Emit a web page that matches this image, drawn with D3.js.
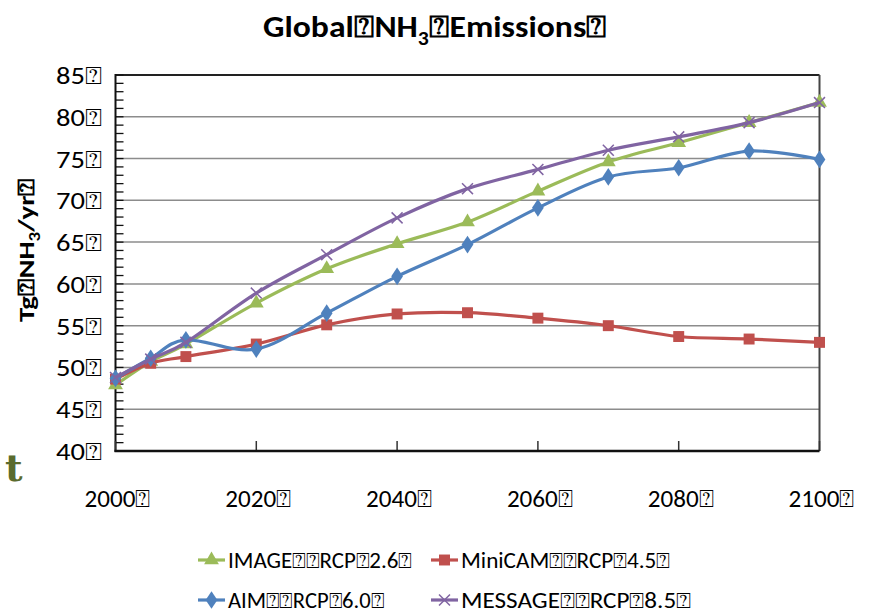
<!DOCTYPE html>
<html><head><meta charset="utf-8">
<script src="https://cdn.jsdelivr.net/npm/d3@7"></script>
<style>
html,body{margin:0;padding:0;background:#fff;}
svg{display:block;}
</style></head>
<body>
<svg id="chart" width="869" height="614"></svg>
<script>
const B = "\u2370";
const years = [2000, 2005, 2010, 2020, 2030, 2040, 2050, 2060, 2070, 2080, 2090, 2100];
const imageVals   = [47.9, 50.7, 52.8, 57.7, 61.8, 64.8, 67.4, 71.1, 74.6, 76.9, 79.3, 81.7];
const minicamVals = [48.6, 50.5, 51.3, 52.8, 55.1, 56.4, 56.55, 55.9, 55.0, 53.7, 53.4, 53.0];
const aimVals     = [48.7, 51.1, 53.3, 52.2, 56.5, 60.9, 64.7, 69.1, 72.8, 73.9, 75.9, 74.9];
const messageVals = [48.8, 51.0, 53.0, 58.9, 63.5, 67.9, 71.4, 73.7, 76.0, 77.6, 79.3, 81.7];
const seriesNames = ["IMAGE" + B + B + "RCP" + B + "2.6" + B, "MiniCAM" + B + B + "RCP" + B + "4.5" + B,
                     "AIM" + B + B + "RCP" + B + "6.0" + B, "MESSAGE" + B + B + "RCP" + B + "8.5" + B];
const seriesColors = ["#9BBB59", "#C0504D", "#4F81BD", "#8064A2"];
const seriesMarkers = ["triangle", "square", "diamond", "x"];
const yTicks = [40, 45, 50, 55, 60, 65, 70, 75, 80, 85];
const xTicks = [2000, 2020, 2040, 2060, 2080, 2100];

const svg = d3.select("#chart");
const FONT = "Carlito, Lato, sans-serif";
const L = 115.5, R = 819.5, T = 75, Bt = 451;
const x = d3.scaleLinear().domain([2000, 2100]).range([L, R]);
const y = d3.scaleLinear().domain([40, 85]).range([Bt, T]);

// gridlines
svg.append("g").selectAll("line").data(yTicks.filter(v => v > 40 && v < 85)).join("line")
  .attr("x1", L).attr("x2", R).attr("y1", d => y(d)).attr("y2", d => y(d))
  .attr("stroke", "#8c8c8c").attr("stroke-width", 1.5);

// plot border top/right
svg.append("line").attr("x1", L).attr("x2", R).attr("y1", T).attr("y2", T).attr("stroke", "#222").attr("stroke-width", 2);
svg.append("line").attr("x1", R).attr("x2", R).attr("y1", T).attr("y2", Bt).attr("stroke", "#444").attr("stroke-width", 2);

// y axis with minor ticks inside
const yMinor = d3.range(40, 86, 1);
svg.append("g").selectAll("line").data(yMinor).join("line")
  .attr("x1", L).attr("x2", L + 8).attr("y1", d => y(d)).attr("y2", d => y(d))
  .attr("stroke", "#111").attr("stroke-width", 1.3);
svg.append("line").attr("x1", L).attr("x2", L).attr("y1", T - 1).attr("y2", Bt + 1).attr("stroke", "#111").attr("stroke-width", 2);
// x axis
svg.append("g").selectAll("line").data(xTicks).join("line")
  .attr("x1", d => x(d)).attr("x2", d => x(d)).attr("y1", Bt).attr("y2", Bt - 10)
  .attr("stroke", "#333").attr("stroke-width", 1.5);
svg.append("line").attr("x1", L - 1).attr("x2", R).attr("y1", Bt).attr("y2", Bt).attr("stroke", "#111").attr("stroke-width", 2.5);

// y tick labels
svg.append("g").selectAll("text").data(yTicks).join("text")
  .attr("x", 102).attr("y", d => y(d)).attr("dy", "0.36em")
  .attr("text-anchor", "end").attr("font-family", FONT).attr("font-size", 25).attr("fill", "#000")
  .attr("textLength", 46).attr("lengthAdjust", "spacingAndGlyphs")
  .text(d => d + B);
// x tick labels
svg.append("g").selectAll("text").data(xTicks).join("text")
  .attr("x", d => x(d) + 2).attr("y", 507)
  .attr("text-anchor", "middle").attr("font-family", FONT).attr("font-size", 25).attr("fill", "#000")
  .attr("textLength", 66).attr("lengthAdjust", "spacingAndGlyphs")
  .text(d => d + B);

// title
const title = svg.append("text").attr("x", 435).attr("y", 37).attr("text-anchor", "middle")
  .attr("font-family", FONT).attr("font-weight", "bold").attr("font-size", 31).attr("fill", "#000")
  .attr("textLength", 344).attr("lengthAdjust", "spacingAndGlyphs");
title.append("tspan").text("Global" + B + "NH");
title.append("tspan").attr("font-size", 20).attr("dy", 8).text("3");
title.append("tspan").attr("dy", -8).text(B + "Emissions" + B);

// y axis title
const yt = svg.append("text").attr("transform", "translate(34,250) rotate(-90)").attr("text-anchor", "middle")
  .attr("font-family", FONT).attr("font-weight", "bold").attr("font-size", 23).attr("fill", "#000")
  .attr("textLength", 144).attr("lengthAdjust", "spacingAndGlyphs");
yt.append("tspan").text("Tg" + B + "NH");
yt.append("tspan").attr("font-size", 15).attr("dy", 6).text("3");
yt.append("tspan").attr("dy", -6).text("/yr" + B);

// stray slide text
svg.append("text").attr("x", 5).attr("y", 481).attr("font-family", "'DejaVu Serif', serif").attr("font-weight", "bold")
  .attr("font-size", 38).attr("fill", "#5A6B2E").text("t");

const allVals = [imageVals, minicamVals, aimVals, messageVals];
const line = d3.line().x((d, i) => x(years[i])).y(d => y(d)).curve(d3.curveCardinal.tension(0));

function drawMarker(g, type, color, cx, cy) {
  if (type === "triangle") {
    g.append("path").attr("d", d3.symbol(d3.symbolTriangle, 95)()).attr("transform", `translate(${cx},${cy})`).attr("fill", color);
  } else if (type === "square") {
    g.append("path").attr("d", d3.symbol(d3.symbolSquare, 120)()).attr("transform", `translate(${cx},${cy})`).attr("fill", color);
  } else if (type === "diamond") {
    g.append("path").attr("d", d3.symbol(d3.symbolDiamond, 90)()).attr("transform", `translate(${cx},${cy}) scale(1.15,1)`).attr("fill", color);
  } else {
    g.append("path").attr("d", d3.symbol(d3.symbolX, 80)()).attr("transform", `translate(${cx},${cy})`).attr("fill", "none").attr("stroke", color).attr("stroke-width", 1.5);
  }
}

allVals.forEach((vals, s) => {
  const g = svg.append("g");
  g.append("path").datum(vals).attr("d", line).attr("fill", "none")
    .attr("stroke", seriesColors[s]).attr("stroke-width", 3.2).attr("stroke-linejoin", "round");
  vals.forEach((v, i) => drawMarker(g, seriesMarkers[s], seriesColors[s], x(years[i]), y(v)));
});

// legend
const legPos = [[198, 560], [431, 560], [198, 600], [431, 600]];
const legLen = [184, 209, 156, 230];
seriesNames.forEach((name, s) => {
  const [lx, ly] = legPos[s];
  const g = svg.append("g");
  g.append("line").attr("x1", lx).attr("x2", lx + 27).attr("y1", ly).attr("y2", ly).attr("stroke", seriesColors[s]).attr("stroke-width", 3.2);
  drawMarker(g, seriesMarkers[s], seriesColors[s], lx + 13.5, ly);
  g.append("text").attr("x", lx + 30).attr("y", ly + 7.5).attr("font-family", FONT).attr("font-size", 22).attr("fill", "#000")
    .attr("textLength", legLen[s]).attr("lengthAdjust", "spacingAndGlyphs").text(name);
});
</script>
</body></html>
